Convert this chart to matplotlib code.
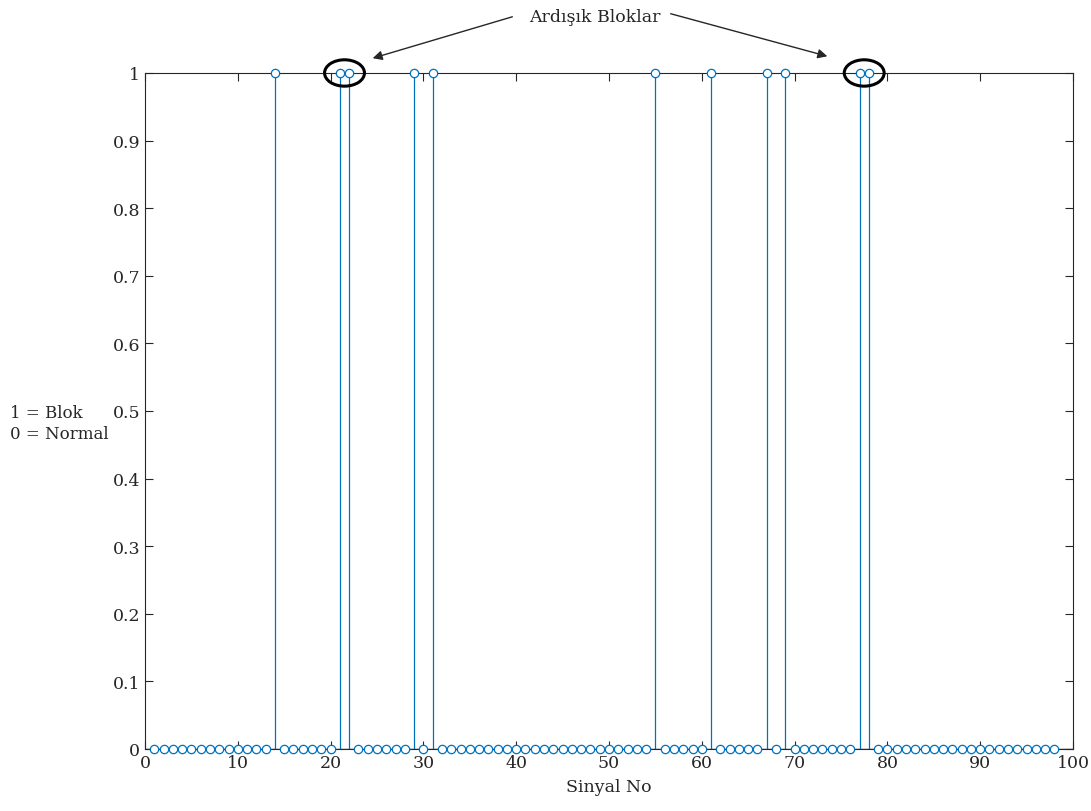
import matplotlib.pyplot as plt
from matplotlib.patches import Ellipse
import numpy as np

# signal numbers and block flags (1 = block, 0 = normal)
sinyal = list(range(1, 99))
blok_idx = [14, 21, 22, 29, 31, 55, 61, 67, 69, 77, 78]
durum = [1 if s in blok_idx else 0 for s in sinyal]

# consecutive block pairs to circle
ardisik = [(21, 22), (77, 78)]

plt.rcParams['font.family'] = ['DejaVu Serif']
renk = '#0072BD'

fig = plt.figure(figsize=(10.91, 8.12), dpi=100)
ax = fig.add_axes([0.1329, 0.0764, 0.8506, 0.8325])

for s, d in zip(sinyal, durum):
    if d:
        ax.plot([s, s], [0, d], color=renk, lw=0.9, zorder=2)
ax.plot(sinyal, durum, 'o', mfc='white', mec=renk, ms=6, mew=0.9, ls='none',
        zorder=3, clip_on=False)
ax.axhline(0, color='#262626', lw=1.0, zorder=1)

ax.set_xlim(0, 100)
ax.set_ylim(0, 1)
ax.set_xticks(np.arange(0, 101, 10))
ax.set_yticks(np.arange(0, 1.01, 0.1))
ax.set_yticklabels(['0'] + ['%.1f' % v for v in np.arange(0.1, 1.0, 0.1)] + ['1'])
ax.tick_params(direction='in', top=True, right=True, length=6, width=0.8,
               labelsize=12.5, colors='#262626', labelcolor='#262626')
for sp in ax.spines.values():
    sp.set_color('#262626')
    sp.set_linewidth(0.8)

ax.set_xlabel('Sinyal No', fontsize=12.5, color='#262626', labelpad=5)
fig.text(0.009, 0.478, '1 = Blok\n0 = Normal', fontsize=12, color='#262626',
         ha='left', va='center', linespacing=1.3)

# circle the consecutive pairs
for a, b in ardisik:
    ax.add_patch(Ellipse(((a + b) / 2, 1), 4.3, 0.039, fill=False, ec='black',
                         lw=2.2, clip_on=False, zorder=4))

fig.text(0.545, 0.979, 'Ardışık Bloklar', fontsize=12.5, color='#262626',
         ha='center', va='center')
ax.annotate('', xy=(370 / 1091, 1 - 60 / 812), xycoords='figure fraction',
            xytext=(515 / 1091, 1 - 17 / 812), textcoords='figure fraction',
            arrowprops=dict(arrowstyle='-|>', color='#262626', lw=1.0,
                            mutation_scale=14))
ax.annotate('', xy=(830 / 1091, 1 - 58 / 812), xycoords='figure fraction',
            xytext=(668 / 1091, 1 - 14 / 812), textcoords='figure fraction',
            arrowprops=dict(arrowstyle='-|>', color='#262626', lw=1.0,
                            mutation_scale=14))

fig.savefig('out.png', dpi=100)
